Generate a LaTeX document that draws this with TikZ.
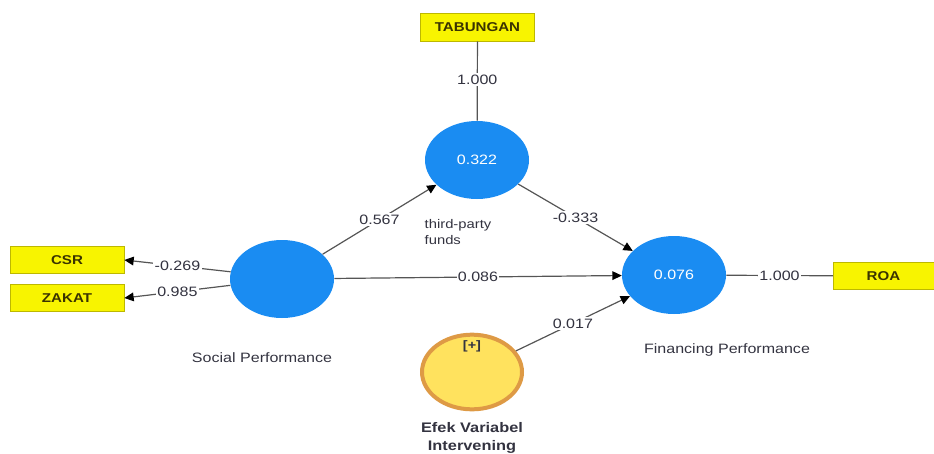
\documentclass[tikz,border=0pt]{standalone}
\usepackage{fontspec}
\setmainfont{Liberation Sans}[FakeStretch=1.18]
\usetikzlibrary{shapes.geometric,arrows.meta}
\definecolor{lvblue}{HTML}{1A8CF2}
\definecolor{indfill}{HTML}{F8F400}
\definecolor{inddraw}{HTML}{BDB800}
\definecolor{effill}{HTML}{FFE25E}
\definecolor{efdraw}{HTML}{DE9A45}
\definecolor{linegray}{HTML}{555555}
\definecolor{labgray}{HTML}{333340}
\definecolor{indtext}{HTML}{3A3300}
\begin{document}
\begin{tikzpicture}[x=0.75pt,y=-0.75pt,
  every node/.style={font=\fontsize{10.2}{12}\selectfont},
  latent/.style={ellipse, fill=lvblue, minimum width=78pt, minimum height=58.5pt,
    inner sep=0pt, text=white},
  moderator/.style={ellipse, fill=effill, draw=efdraw, line width=3pt,
    minimum width=75pt, minimum height=56pt, inner sep=0pt},
  indicator/.style={rectangle, fill=indfill, draw=inddraw, line width=0.5pt,
    minimum width=85.5pt, minimum height=20.5pt, inner sep=0pt,
    text=indtext, font=\fontsize{9.6}{11}\selectfont\bfseries},
  coef/.style={fill=white, inner sep=1pt, text=labgray, pos=0.5},
  caption/.style={text=labgray, align=center},
  link/.style={draw=linegray, line width=0.9pt},
  arrowlink/.style={link, -{Triangle[length=7pt,width=6.5pt,color=black]}},
]
\useasboundingbox (0,0) rectangle (934,453);

% indicators
\node[indicator] (tab) at (477.5,27.5) {TABUNGAN};
\node[indicator] (csr) at (67,260) {CSR};
\node[indicator] (zak) at (67,298) {ZAKAT};
\node[indicator, minimum width=75.5pt] (roa) at (883.5,276) {ROA};

% latent variables
\node[latent] (tpf) at (477,160) {0.322};
\node[latent] (soc) at (282,279) {};
\node[latent] (fin) at (674,275) {0.076};
\node[moderator] (efk) at (472,372) {};
\node[text=labgray, font=\fontsize{9.2}{10}\selectfont\bfseries] (plus) at (472,346) {[+]};

% captions
\node[caption, align=left, anchor=west] (tpfcap) at (420,232)
  {\fontsize{9.4}{14}\selectfont third-party\\ \fontsize{9.4}{14}\selectfont funds};
\node[caption] (soccap) at (262,358) {Social Performance};
\node[caption] (fincap) at (727,350) {Financing Performance};
\node[caption, font=\fontsize{10.4}{13.5}\selectfont\bfseries] (efkcap) at (472,438)
  {Efek Variabel\\Intervening};

% outer loadings
\draw[link] (tab) -- node[coef, pos=0.48] {1.000} (tpf);
\draw[link] (fin) -- node[coef] {1.000} (roa);
\draw[arrowlink] (soc.172) -- node[coef] {-0.269} (csr.east);
\draw[arrowlink] (soc.187) -- node[coef] {0.985} (zak.east);

% structural paths
\draw[arrowlink] (soc) -- node[coef] {0.567} (tpf);
\draw[arrowlink] (tpf) -- node[coef] {-0.333} (fin);
\draw[arrowlink] (soc) -- node[coef] {0.086} (fin);
\draw[arrowlink] (efk) -- node[coef] {0.017} (fin);
\end{tikzpicture}
\end{document}
